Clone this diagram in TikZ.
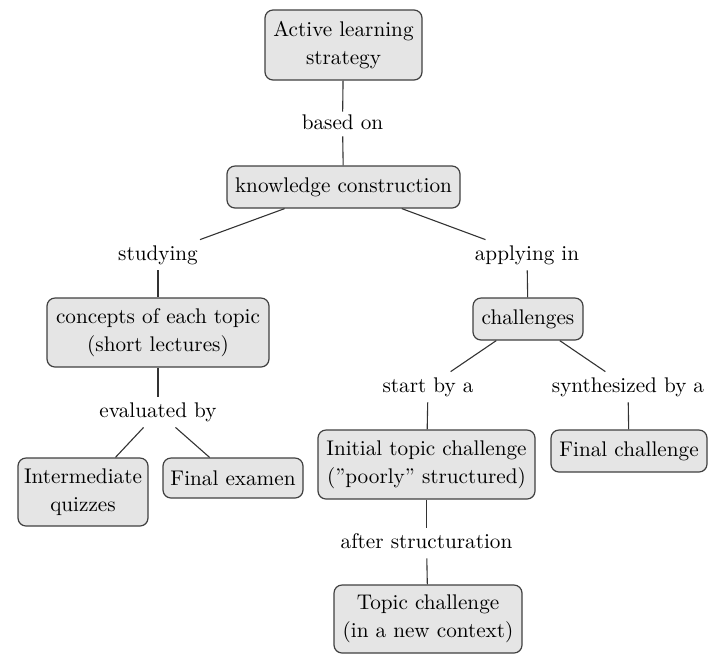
\documentclass[tikz,border=0pt]{standalone}
\begin{document}
\begin{tikzpicture}[x=0.5pt,y=-0.5pt,
  box/.style={draw=black!75, fill=black!10, rounded corners=4pt, line width=0.6pt,
    align=center, inner sep=0pt, font=\fontsize{10.6}{14}\selectfont, text=black},
  lbl/.style={inner xsep=2pt, inner ysep=2.5pt, text height=7.5pt, text depth=2.5pt,
    font=\fontsize{10.6}{14}\selectfont, text=black},
  conn/.style={draw=black!80, line width=0.55pt}]
\useasboundingbox (0,0) rectangle (721,655);
% boxes
\node[box, minimum width=78.5pt, minimum height=35pt] (als) at (343.5,45) {Active learning\\strategy};
\node[box, minimum width=116.5pt, minimum height=21pt] (kc) at (343.5,187) {knowledge construction};
\node[box, minimum width=111pt, minimum height=34.5pt] (conc) at (158,332.5) {concepts of each topic\\(short lectures)};
\node[box, minimum width=65pt, minimum height=34pt] (iq) at (83,492) {Intermediate\\quizzes};
\node[box, minimum width=70pt, minimum height=20pt] (fe) at (233,478) {Final examen};
\node[box, minimum width=55pt, minimum height=21pt] (ch) at (528,319) {challenges};
\node[box, minimum width=108.5pt, minimum height=34.5pt] (itc) at (426.5,464.5) {Initial topic challenge\\(''poorly'' structured)};
\node[box, minimum width=78pt, minimum height=21pt] (fc) at (629,451) {Final challenge};
\node[box, minimum width=94pt, minimum height=34pt] (tc) at (428,619) {Topic challenge\\(in a new context)};
% labels
\node[lbl, inner ysep=1pt] (bo) at (342.5,124) {based on};
\node[lbl] (st) at (158,255) {studying};
\node[lbl] (ap) at (527,255) {applying in};
\node[lbl] (ev) at (158,412) {evaluated by};
\node[lbl] (sb) at (428,387) {start by a};
\node[lbl] (sy) at (628,387) {synthesized by a};
\node[lbl] (as) at (426.5,543) {after structuration};
% connectors
\draw[conn] (als) -- (bo);
\draw[conn] (bo) -- (kc);
\draw[conn] (kc) -- (st);
\draw[conn] (kc) -- (ap);
\draw[conn] (st) -- (conc);
\draw[conn] (conc) -- (ev);
\draw[conn] (ev) -- (iq);
\draw[conn] (ev) -- (fe);
\draw[conn] (ap) -- (ch);
\draw[conn] (ch) -- (sb);
\draw[conn] (ch) -- (sy);
\draw[conn] (sb) -- (itc);
\draw[conn] (sy) -- (fc);
\draw[conn] (itc) -- (as);
\draw[conn] (as) -- (tc);
\end{tikzpicture}
\end{document}
